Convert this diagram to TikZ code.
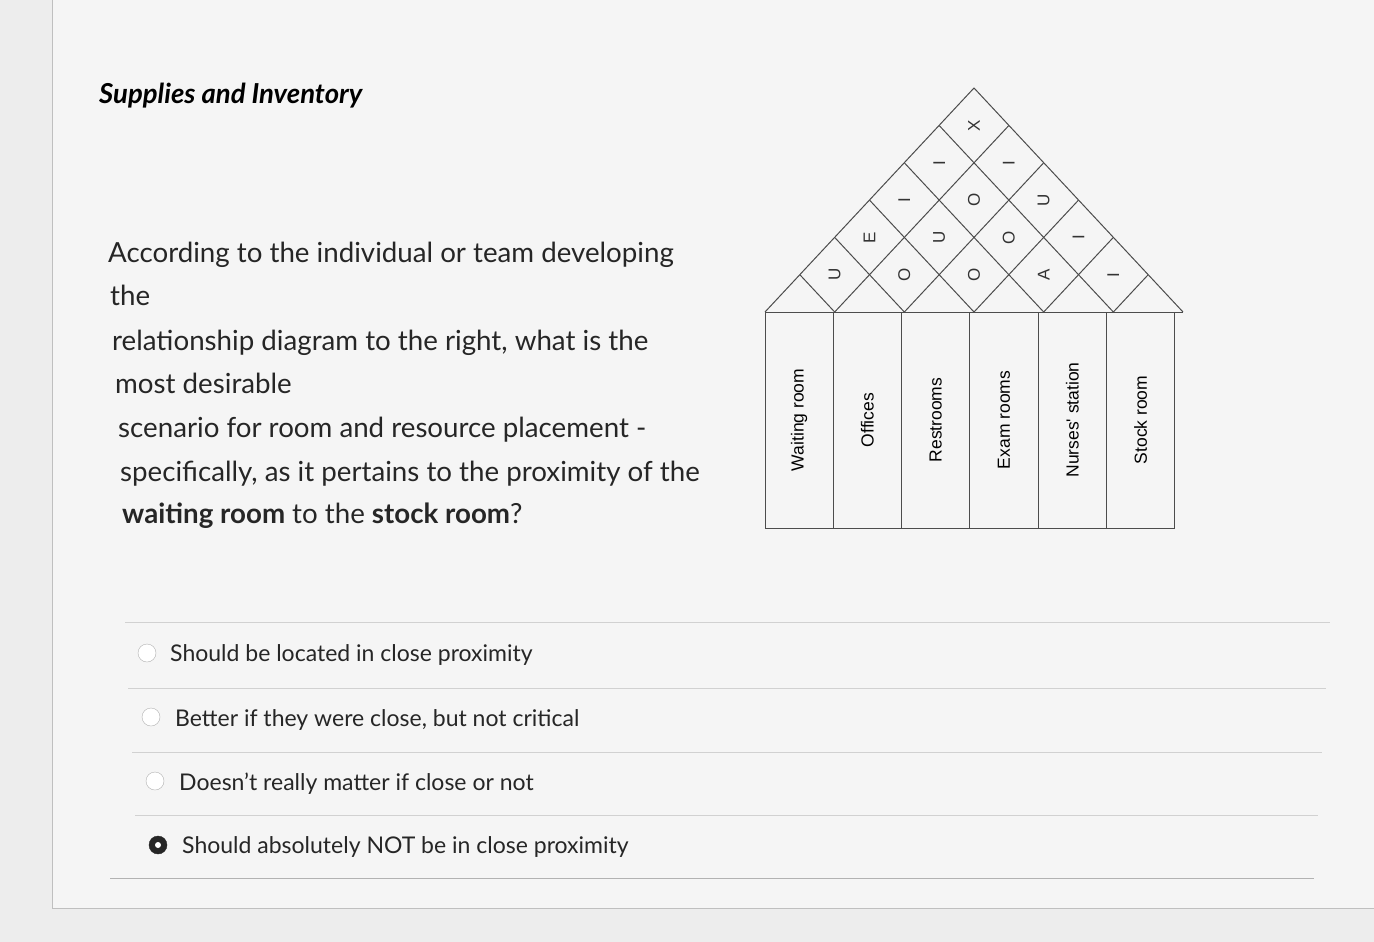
\documentclass[tikz,border=0pt]{standalone}
\usepackage{fontspec}
\setmainfont{Lato}
\newfontfamily\arial{Liberation Sans}
\begin{document}
\begin{tikzpicture}[x=1pt,y=-1pt,
  body/.style={anchor=base west,inner sep=0pt,font=\fontsize{27.7}{32}\selectfont,text=black!85},
  opt/.style={anchor=base west,inner sep=0pt,font=\fontsize{23}{27}\selectfont,text=black!85},
  radio/.style={circle,draw=black!30,fill=white,minimum size=18pt,inner sep=0pt},
  sep/.style={draw=black!18,line width=1pt},
  grid/.style={draw=black!70,line width=1pt},
  lab/.style={rotate=90,font=\arial\fontsize{17.5}{19}\selectfont,inner sep=0pt},
  rel/.style={rotate=90,font=\arial\fontsize{17}{18}\selectfont,inner sep=0pt,text=black!80}]
\fill[black!7] (0,0) rectangle (1374,942);
\useasboundingbox (0,0) rectangle (1374,942);
\fill[black!4] (52,0) rectangle (1374,908);
\draw[black!25,line width=1pt] (52,0) -- (52,908) -- (1374,908);
\node[anchor=base west,inner sep=0pt,font=\bfseries\itshape\fontsize{27.5}{32}\selectfont] (title) at (99,103) {Supplies and Inventory};
\node[body] (l1) at (108,262) {According to the individual or team developing};
\node[body] (l2) at (110,305) {the};
\node[body] (l3) at (112,350) {relationship diagram to the right, what is the};
\node[body] (l4) at (115,393) {most desirable};
\node[body] (l5) at (118,437) {scenario for room and resource placement -};
\node[body] (l6) at (120,481) {specifically, as it pertains to the proximity of the};
\node[body] (l7) at (122,523) {\textbf{waiting room} to the \textbf{stock room}?};
% separators
\draw[sep] (125,622) -- (1330,622);
\draw[sep] (128,688) -- (1326,688);
\draw[sep] (132,752) -- (1322,752);
\draw[sep] (135,815) -- (1318,815);
\draw[black!30,line width=1pt] (110,878) -- (1314,878);
% options
\node[radio] (r1) at (147,653) {};
\node[opt] (o1) at (170,661) {Should be located in close proximity};
\node[radio] (r2) at (151,717) {};
\node[opt] (o2) at (175,726) {Better if they were close, but not critical};
\node[radio] (r3) at (155,781) {};
\node[opt] (o3) at (179,790) {Doesn't really matter if close or not};
\node[radio,draw=black!85,fill=black!85] (r4) at (158,845) {};
\node[circle,fill=white,minimum size=6pt,inner sep=0pt] (r4d) at (r4) {};
\node[opt] (o4) at (182,853) {Should absolutely NOT be in close proximity};
% house
\def\w{68.3}\def\h{37.3}\def\rw{69.67}
\foreach \i in {0,...,6}{\draw[grid] ({765+\i*\w},312) -- ({765+\i*\w},528);}
\draw[grid] (765,312) -- (1183,312);
\draw[grid] (765,528) -- (1175,528);
\draw[grid] (765,312) -- (974,88) -- (1183,312);
\foreach \i in {1,...,5}{
  \draw[grid] ({765+\i*\rw},312) -- ({765+\i*\rw/2},{312-\i*\h});
  \draw[grid] ({765+\i*\rw},312) -- ({765+\i*\rw+(6-\i)*\rw/2},{312-(6-\i)*\h});
}
\foreach \t [count=\i from 0] in {Waiting room,Offices,Restrooms,Exam rooms,Nurses' station,Stock room}
  \node[lab] (c\i) at ({765+(\i+0.5)*\w},420) {\t};
\foreach \i/\j/\l in {0/1/U,1/2/O,2/3/O,3/4/A,4/5/I,0/2/E,1/3/U,2/4/O,3/5/I,0/3/I,1/4/O,2/5/U,0/4/I,1/5/I,0/5/X}
  \node[rel] (p\i\j) at ({765+(\i+\j+1)*\rw/2},{312-(\j-\i)*\h}) {\l};
\end{tikzpicture}
\end{document}
